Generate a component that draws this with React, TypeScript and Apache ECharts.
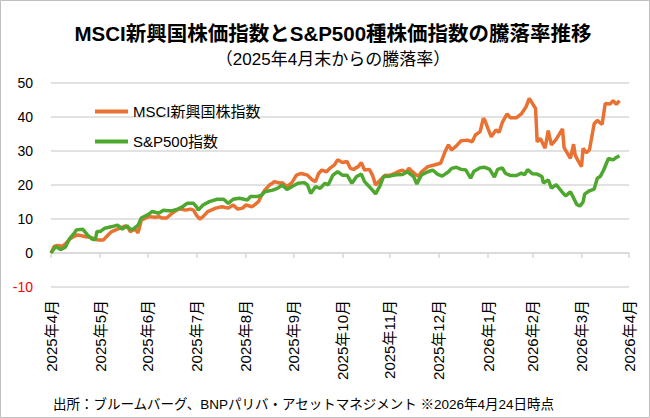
import React, { useEffect, useRef } from "react";
import * as echarts from "echarts";

const TITLE = "MSCI新興国株価指数とS&P500種株価指数の騰落率推移";
const SUBTITLE = "（2025年4月末からの騰落率）";
const SOURCE = "出所：ブルームバーグ、BNPパリバ・アセットマネジメント ※2026年4月24日時点";
const SERIES_NAMES = ["MSCI新興国株指数", "S&P500指数"];
const SERIES_COLORS = ["#E97132", "#4EA72E"];

const TICK_DATES = [
  "2025-04-30", "2025-05-31", "2025-06-30", "2025-07-31", "2025-08-31", "2025-09-30",
  "2025-10-31", "2025-11-30", "2025-12-31", "2026-01-31", "2026-02-28", "2026-03-31", "2026-04-30",
];
const TICK_LABELS = [
  "2025年4月", "2025年5月", "2025年6月", "2025年7月", "2025年8月", "2025年9月",
  "2025年10月", "2025年11月", "2025年12月", "2026年1月", "2026年2月", "2026年3月", "2026年4月",
];

const Y_MIN = -10;
const Y_MAX = 50;
const Y_STEP = 10;

const emDates = [
  "2025-04-30", "2025-05-02", "2025-05-04", "2025-05-07", "2025-05-09", "2025-05-12", "2025-05-15", "2025-05-17",
  "2025-05-20", "2025-05-22", "2025-05-25", "2025-05-27", "2025-05-30", "2025-06-02", "2025-06-05", "2025-06-07",
  "2025-06-11", "2025-06-13", "2025-06-16", "2025-06-18", "2025-06-19", "2025-06-22", "2025-06-24", "2025-06-26",
  "2025-06-29", "2025-07-01", "2025-07-05", "2025-07-07", "2025-07-09", "2025-07-12", "2025-07-15", "2025-07-17",
  "2025-07-20", "2025-07-24", "2025-07-27", "2025-07-29", "2025-07-31", "2025-08-02", "2025-08-04", "2025-08-07",
  "2025-08-12", "2025-08-16", "2025-08-20", "2025-08-23", "2025-08-26", "2025-08-29", "2025-08-31", "2025-09-04",
  "2025-09-08", "2025-09-10", "2025-09-12", "2025-09-15", "2025-09-17", "2025-09-18", "2025-09-22", "2025-09-23",
  "2025-09-26", "2025-09-29", "2025-10-02", "2025-10-05", "2025-10-09", "2025-10-12", "2025-10-14", "2025-10-16",
  "2025-10-18", "2025-10-21", "2025-10-23", "2025-10-26", "2025-10-28", "2025-10-31", "2025-11-03", "2025-11-05",
  "2025-11-07", "2025-11-10", "2025-11-12", "2025-11-14", "2025-11-17", "2025-11-19", "2025-11-21", "2025-11-24",
  "2025-11-27", "2025-11-30", "2025-12-03", "2025-12-05", "2025-12-08", "2025-12-10", "2025-12-12", "2025-12-14",
  "2025-12-16", "2025-12-18", "2025-12-20", "2025-12-24", "2025-12-28", "2026-01-01", "2026-01-02", "2026-01-04",
  "2026-01-06", "2026-01-08", "2026-01-11", "2026-01-14", "2026-01-18", "2026-01-21", "2026-01-23", "2026-01-26",
  "2026-01-28", "2026-01-29", "2026-01-31", "2026-02-02", "2026-02-05", "2026-02-07", "2026-02-09", "2026-02-12",
  "2026-02-14", "2026-02-18", "2026-02-21", "2026-02-24", "2026-02-26", "2026-02-28", "2026-03-02", "2026-03-03",
  "2026-03-05", "2026-03-08", "2026-03-10", "2026-03-12", "2026-03-15", "2026-03-19", "2026-03-20", "2026-03-24",
  "2026-03-26", "2026-03-27", "2026-03-29", "2026-03-31", "2026-04-01", "2026-04-03", "2026-04-05", "2026-04-08",
  "2026-04-10", "2026-04-13", "2026-04-15", "2026-04-18", "2026-04-20", "2026-04-22", "2026-04-24",
];
const emValues = [
  0, 1.9, 2.2, 2.0, 2.6, 4.2, 5.0, 5.3,
  5.0, 4.8, 4.6, 4.2, 3.8, 3.8, 5.3, 6.2,
  7.0, 7.4, 8.0, 7.2, 6.3, 7.0, 5.9, 9.7,
  10.3, 10.7, 10.5, 10.7, 10.3, 10.3, 11.5, 12.2,
  13.0, 12.6, 12.9, 12.6, 11.0, 10.0, 10.7, 12.2,
  13.2, 13.6, 13.2, 14.1, 12.9, 13.2, 14.1, 13.6,
  15.1, 17.0, 18.5, 20.0, 20.6, 21.0, 20.5, 20.7,
  19.5, 20.6, 22.9, 23.4, 22.9, 21.5, 21.0, 23.4,
  24.4, 23.9, 24.9, 25.9, 27.4, 26.6, 26.9, 24.9,
  24.6, 25.4, 26.6, 24.4, 24.6, 22.9, 20.0, 21.5,
  22.9, 22.8, 23.4, 23.9, 24.4, 23.6, 24.9, 24.0,
  23.2, 22.6, 23.9, 25.4, 25.9, 26.4, 27.5, 30.0,
  31.8, 30.3, 31.5, 33.0, 33.2, 32.7, 34.7, 35.7,
  39.6, 39.0, 36.5, 34.2, 36.2, 35.5, 38.4, 40.9,
  39.8, 39.8, 40.9, 43.0, 45.5, 44.0, 42.5, 32.7,
  33.7, 30.8, 36.0, 31.8, 33.4, 36.5, 31.0, 27.8,
  32.0, 28.8, 27.0, 25.4, 30.8, 29.5, 30.3, 38.0,
  39.0, 37.8, 44.0, 43.8, 44.8, 43.7, 44.8,
];

const spDates = [
  "2025-04-30", "2025-05-03", "2025-05-06", "2025-05-09", "2025-05-12", "2025-05-15", "2025-05-16", "2025-05-20",
  "2025-05-23", "2025-05-26", "2025-05-28", "2025-05-29", "2025-05-31", "2025-06-03", "2025-06-07", "2025-06-11",
  "2025-06-14", "2025-06-17", "2025-06-19", "2025-06-21", "2025-06-24", "2025-06-26", "2025-06-30", "2025-07-03",
  "2025-07-07", "2025-07-10", "2025-07-13", "2025-07-15", "2025-07-19", "2025-07-22", "2025-07-25", "2025-07-29",
  "2025-07-31", "2025-08-01", "2025-08-04", "2025-08-08", "2025-08-13", "2025-08-17", "2025-08-20", "2025-08-23",
  "2025-08-27", "2025-09-01", "2025-09-03", "2025-09-07", "2025-09-10", "2025-09-12", "2025-09-17", "2025-09-20",
  "2025-09-23", "2025-09-26", "2025-09-29", "2025-10-03", "2025-10-07", "2025-10-09", "2025-10-11", "2025-10-14",
  "2025-10-17", "2025-10-20", "2025-10-22", "2025-10-25", "2025-10-28", "2025-10-31", "2025-11-03", "2025-11-06",
  "2025-11-09", "2025-11-12", "2025-11-14", "2025-11-16", "2025-11-19", "2025-11-21", "2025-11-24", "2025-11-26",
  "2025-11-30", "2025-12-04", "2025-12-08", "2025-12-11", "2025-12-15", "2025-12-17", "2025-12-20", "2025-12-24",
  "2025-12-27", "2025-12-30", "2026-01-02", "2026-01-06", "2026-01-08", "2026-01-11", "2026-01-14", "2026-01-17",
  "2026-01-20", "2026-01-22", "2026-01-26", "2026-01-29", "2026-02-01", "2026-02-04", "2026-02-06", "2026-02-09",
  "2026-02-11", "2026-02-14", "2026-02-18", "2026-02-21", "2026-02-23", "2026-02-25", "2026-02-28", "2026-03-03",
  "2026-03-06", "2026-03-07", "2026-03-10", "2026-03-12", "2026-03-15", "2026-03-19", "2026-03-21", "2026-03-24",
  "2026-03-26", "2026-03-28", "2026-03-30", "2026-04-01", "2026-04-02", "2026-04-05", "2026-04-08", "2026-04-10",
  "2026-04-12", "2026-04-14", "2026-04-17", "2026-04-20", "2026-04-22", "2026-04-24",
];
const spValues = [
  0, 1.9, 1.0, 1.7, 4.4, 6.0, 6.8, 7.0,
  5.3, 4.1, 3.9, 6.3, 6.3, 7.3, 7.7, 8.2,
  7.0, 8.0, 7.0, 7.0, 8.2, 10.3, 11.2, 12.2,
  11.7, 12.6, 12.4, 12.4, 12.9, 13.6, 14.6, 14.6,
  13.5, 12.6, 14.1, 15.1, 15.8, 15.8, 14.6, 15.8,
  16.1, 15.6, 16.6, 16.6, 17.0, 18.0, 18.5, 19.0,
  20.0, 18.7, 19.5, 20.5, 20.7, 20.0, 17.5, 19.5,
  19.0, 20.5, 20.0, 22.9, 23.9, 22.9, 22.9, 20.5,
  22.5, 23.2, 21.0, 20.0, 18.5, 17.4, 20.0, 22.5,
  22.6, 23.0, 23.1, 23.9, 22.5, 20.3, 23.0, 23.9,
  24.4, 23.2, 22.6, 23.9, 24.9, 25.2, 24.6, 24.4,
  22.0, 24.0, 25.1, 25.2, 24.6, 22.3, 24.6, 25.0,
  23.4, 22.8, 22.8, 23.5, 23.0, 24.5, 23.3, 23.2,
  22.5, 20.6, 21.5, 19.1, 20.1, 17.8, 16.8, 18.0,
  16.2, 14.3, 13.8, 15.0, 17.3, 18.3, 18.8, 22.0,
  22.6, 24.4, 27.8, 27.4, 28.1, 28.6,
];

const FONT = "'Liberation Sans', Arial, 'Noto Sans CJK JP', sans-serif";

function toTs(s: string): number {
  const [y, m, d] = s.split("-").map(Number);
  return Date.UTC(y, m - 1, d);
}

export default function App() {
  const ref = useRef<HTMLDivElement>(null);

  useEffect(() => {
    if (!ref.current) return;
    const chart = echarts.init(ref.current, undefined, { renderer: "svg" });
    const tickTs = TICK_DATES.map(toTs);
    const xMin = tickTs[0];
    const xMax = tickTs[tickTs.length - 1];
    const labelFor = (v: number) => {
      let best = 0;
      for (let i = 0; i < tickTs.length; i++) {
        if (Math.abs(tickTs[i] - v) < Math.abs(tickTs[best] - v)) best = i;
      }
      return TICK_LABELS[best];
    };
    const emData = emDates.map((d, i) => [toTs(d), emValues[i]]);
    const spData = spDates.map((d, i) => [toTs(d), spValues[i]]);
    const gridColor = "#d9d9d9";

    chart.setOption({
      animation: false,
      backgroundColor: "#ffffff",
      textStyle: { fontFamily: FONT },
      grid: { left: 51, right: 21, top: 83, bottom: 131, containLabel: false, outerBoundsMode: "none" },
      xAxis: [
        {
          type: "value",
          min: xMin,
          max: xMax,
          position: "bottom",
          axisLine: { show: false, onZero: false },
          axisTick: { show: false },
          splitLine: { show: false },
          axisLabel: {
            customValues: tickTs,
            rotate: 90,
            margin: 13,
            fontSize: 15,
            fontFamily: FONT,
            color: "#000000",
            formatter: (v: number) => labelFor(v),
          },
        },
        {
          type: "value",
          min: xMin,
          max: xMax,
          position: "bottom",
          axisLine: { show: true, onZero: true, lineStyle: { color: gridColor, width: 1.5 } },
          axisTick: { show: true, customValues: tickTs, length: 5, lineStyle: { color: gridColor, width: 1.5 } },
          axisLabel: { show: false },
          splitLine: { show: false },
        },
      ],
      yAxis: {
        type: "value",
        min: Y_MIN,
        max: Y_MAX,
        interval: Y_STEP,
        axisLine: { show: false, onZero: false },
        axisTick: { show: false },
        splitLine: { lineStyle: { color: gridColor, width: 1.5 } },
        axisLabel: {
          margin: 18,
          fontSize: 14,
          fontFamily: FONT,
          color: (v: any) => (Number(v) < 0 ? "#ff0000" : "#000000"),
        },
      },
      legend: {
        orient: "vertical",
        left: 95,
        top: 104,
        padding: 0,
        itemGap: 15,
        itemWidth: 33,
        itemHeight: 4,
        icon: "rect",
        textStyle: { fontSize: 15, fontFamily: FONT, color: "#000000" },
        data: SERIES_NAMES,
      },
      series: [
        {
          name: SERIES_NAMES[0],
          type: "line",
          xAxisIndex: 0,
          data: emData,
          symbol: "none",
          lineStyle: { color: SERIES_COLORS[0], width: 3.5 },
          itemStyle: { color: SERIES_COLORS[0] },
          z: 3,
        },
        {
          name: SERIES_NAMES[1],
          type: "line",
          xAxisIndex: 0,
          data: spData,
          symbol: "none",
          lineStyle: { color: SERIES_COLORS[1], width: 3.5 },
          itemStyle: { color: SERIES_COLORS[1] },
          z: 4,
        },
      ],
      graphic: [
        {
          type: "rect",
          silent: true,
          z: 100,
          shape: { x: 0.5, y: 0.5, width: 649, height: 417 },
          style: { fill: "transparent", stroke: "#bfbfbf", lineWidth: 1 },
        },
        {
          type: "text",
          x: 333,
          y: 33,
          style: {
            text: TITLE,
            fontSize: 20.5,
            fontWeight: "bold",
            fontFamily: FONT,
            fill: "#000000",
            align: "center",
            verticalAlign: "middle",
          },
        },
        {
          type: "text",
          x: 333,
          y: 59,
          style: {
            text: SUBTITLE,
            fontSize: 17,
            fontFamily: FONT,
            fill: "#000000",
            align: "center",
            verticalAlign: "middle",
          },
        },
        {
          type: "text",
          x: 53,
          y: 404,
          style: {
            text: SOURCE,
            fontSize: 13.5,
            fontFamily: FONT,
            fill: "#000000",
            align: "left",
            verticalAlign: "middle",
          },
        },
      ],
    });

    return () => chart.dispose();
  }, []);

  return (
    <div
      ref={ref}
      style={{ position: "absolute", left: 0, top: 0, width: 650, height: 418 }}
    />
  );
}
